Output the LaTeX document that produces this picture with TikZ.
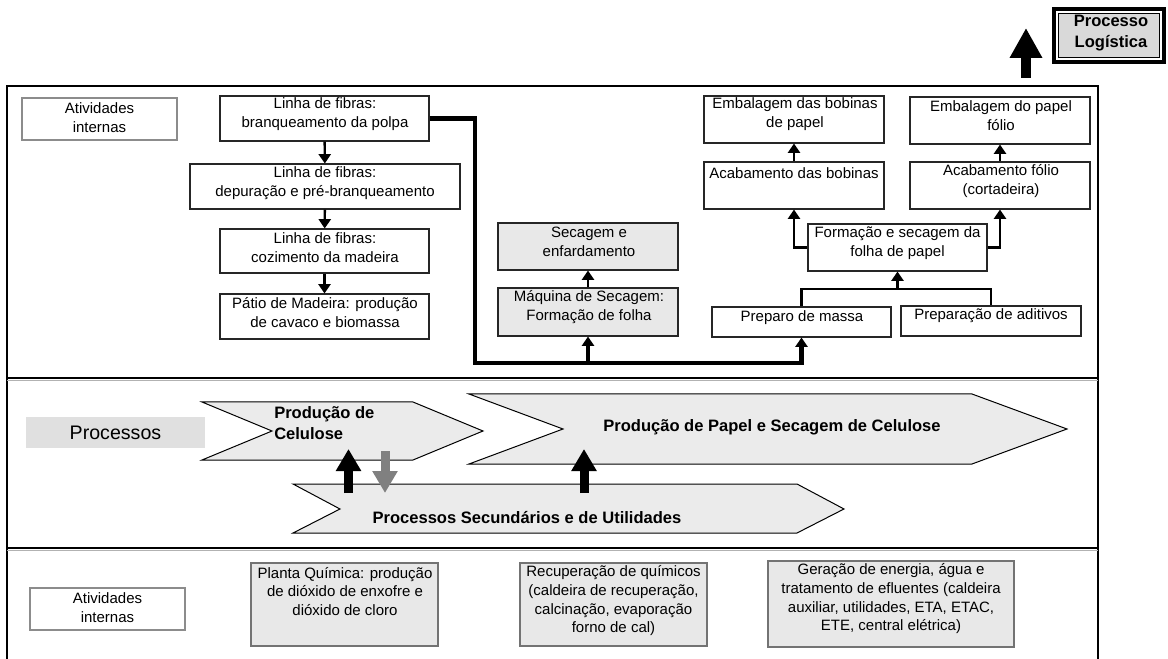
\documentclass[tikz,border=0pt]{standalone}
\usepackage{fontspec}
\setmainfont{Liberation Sans}
\usetikzlibrary{arrows.meta,fit}
\begin{document}
\begin{tikzpicture}[x=0.75pt,y=-0.75pt,
  every node/.style={inner sep=0pt},
  txt/.style={align=center,font=\fontsize{11.25}{14.25}\selectfont},
  txtb/.style={align=center,font=\fontsize{11.25}{14}\selectfont},
  bold/.style={align=center,font=\fontsize{12.4}{15.4}\selectfont\bfseries},
  pbox/.style={draw=black!85,line width=0.8pt,fill=white},
  gbox/.style={pbox,fill=black!9},
  lbox/.style={draw=black!45,line width=0.8pt},
  sbox/.style={draw=black!55,line width=0.8pt,fill=black!9},
  link/.style={line width=1.8pt,-{Triangle[width=9pt,length=7pt]}},
  trunk/.style={line width=3.2pt,line join=miter,-{Triangle[width=9pt,length=7pt]}},
  chev/.style={draw=black,line width=0.75pt,fill=black!8},
  blockup/.style={line width=6.75pt,-{Triangle[width=18pt,length=16.5pt]}},
]
\useasboundingbox (0,0) rectangle (1168,659);

% outer frame and the two band separators
\draw[line width=2pt] (7,662) -- (7,86) -- (1098,86) -- (1098,662);
\draw[black!30,line width=0.75pt] (7,380.5) -- (1098,380.5);
\draw[line width=1.5pt] (7,378) -- (1098,378);
\draw[black!30,line width=0.75pt] (7,550.5) -- (1098,550.5);
\draw[line width=1.5pt] (7,548) -- (1098,548);

% ---------- upper band: internal activities ----------
\node[lbox, fit={(22,98) (177,140)}] (atv1) {};
\node[txt] (atv1t) at (99.5,117.5) {Atividades\\internas};

\node[pbox, fit={(220,96) (429,141)}] (f1) {};
\node[txt] (f1t) at (325,114.5) {Linha de fibras:\\branqueamento da polpa};
\node[pbox, fit={(190,164) (460,209)}] (f2) {};
\node[txt] (f2t) at (325,183.5) {Linha de fibras:\\depuração e pré-branqueamento};
\node[pbox, fit={(220,229) (429,273)}] (f3) {};
\node[txt] (f3t) at (325,247.5) {Linha de fibras:\\cozimento da madeira};
\node[pbox, fit={(220,294) (429,339)}] (pat) {};
\node[txt] (patt) at (325,313) {Pátio de Madeira: produção\\de cavaco e biomassa};

\node[gbox, fit={(498,223) (678,270)}] (sec) {};
\node[txt] (sect) at (589,242) {Secagem e\\enfardamento};
\node[gbox, fit={(498,288) (678,336)}] (maq) {};
\node[txt] (maqt) at (589,307.5) {Máquina de Secagem:\\Formação de folha};

\node[pbox, fit={(712,307) (891,337)}] (prep) {};
\node[txt] (prept) at (802,318) {Preparo de massa};
\node[pbox, fit={(901,306) (1081,336)}] (adit) {};
\node[txt] (aditt) at (991,316) {Preparação de aditivos};
\node[pbox, fit={(808,224) (987,271)}] (form) {};
\node[txt] (formt) at (897.5,243) {Formação e secagem da\\folha de papel};

\node[pbox, fit={(704,162) (884,209)}] (acb) {};
\node[txt] (acbt) at (794,173) {Acabamento das bobinas};
\node[pbox, fit={(910,162) (1090,209)}] (acf) {};
\node[txt] (acft) at (1001,181.5) {Acabamento fólio\\(cortadeira)};
\node[pbox, fit={(704,96) (884,143)}] (emb) {};
\node[txt] (embt) at (795,114.5) {Embalagem das bobinas\\de papel};
\node[pbox, fit={(910,97) (1090,144)}] (emf) {};
\node[txt] (emft) at (1001,116) {Embalagem do papel\\fólio};

% pulp line, top to bottom
\draw[link] (f1) -- (f2);
\draw[link] (f2) -- (f3);
\draw[link] (f3) -- (pat);

% trunk from bleaching to both machines
\coordinate (c1) at (475,363);
\draw[trunk] (f1.east) -| (c1) -| (prep.south);
\draw[trunk] (maq.south |- c1) -- (maq.south);
\draw[link] (maq) -- (sec);

% paper machine branch
\coordinate (c2) at (897.5,289);
\draw[line width=1.6pt] (prep.north) |- (c2) -| (adit.north);
\draw[link] (form.south |- c2) -- (form.south);
\draw[link] (form.west) -| (acb.south);
\draw[link] (form.east) -| (acf.south);
\draw[link] (acb) -- (emb);
\draw[link] (acf) -- (emf);

% logistics
\node[draw, line width=2.4pt, fill=white, fit={(1054,9) (1164,62)}] (log) {};
\node[draw, line width=1.1pt, fill=black!15, fit={(1058.5,13.5) (1159.5,57.5)}] (logi) {};
\node[bold, font=\fontsize{12.4}{15.75}\selectfont\bfseries] (logt) at (1111,33.5) {Processo\\Logística};
\coordinate (lgA) at (1026,78);
\coordinate (lgB) at (1026,28);
\draw[line width=7.5pt,-{Triangle[width=23pt,length=22.5pt]}] (lgA) -- (lgB);

% ---------- middle band: processes ----------
\node[fill=black!12, fit={(26,417) (205,448)}] (proc) {};
\node[font=\fontsize{14.7}{17}\selectfont] (proct) at (115.5,432.5) {Processos};

\draw[chev] (202,402) -- (413,402) -- (483,431) -- (413,460) -- (202,460) -- (272,431) -- cycle;
\node[bold, align=left, anchor=west] (celt) at (274,423) {Produção de\\Celulose};
\draw[chev] (469,394) -- (972,394) -- (1067,429) -- (972,464) -- (469,464) -- (563,429) -- cycle;
\node[bold] (papt) at (772,427) {Produção de Papel e Secagem de Celulose};
\draw[chev] (293,484) -- (797,484) -- (844,509) -- (797,533) -- (293,533) -- (340,509) -- cycle;
\node[bold] (sect2) at (527,518) {Processos Secundários e de Utilidades};

\coordinate (u1a) at (348.5,493);
\coordinate (u1b) at (348.5,449);
\coordinate (d1a) at (385,451);
\coordinate (d1b) at (385,493);
\coordinate (u2a) at (584,493);
\coordinate (u2b) at (584,449);
\draw[blockup] (u1a) -- (u1b);
\draw[blockup, black!50] (d1a) -- (d1b);
\draw[blockup] (u2a) -- (u2b);

% ---------- lower band: support activities ----------
\node[lbox, fit={(30,588) (185,630)}] (atv2) {};
\node[txt] (atv2t) at (107.5,607.5) {Atividades\\internas};
\node[sbox, fit={(251,563) (438,646)}] (pq) {};
\node[txtb] (pqt) at (345,591.3) {Planta Química: produção\\de dióxido de enxofre e\\dióxido de cloro};
\node[sbox, fit={(520,563) (707,646)}] (rq) {};
\node[txtb] (rqt) at (613.5,600.7) {Recuperação de químicos\\(caldeira de recuperação,\\calcinação, evaporação\\forno de cal)};
\node[sbox, fit={(768,561) (1014,647)}] (ge) {};
\node[txtb] (get) at (891,598.7) {Geração de energia, água e\\tratamento de efluentes (caldeira\\auxiliar, utilidades, ETA, ETAC,\\ETE, central elétrica)};
\end{tikzpicture}
\end{document}
